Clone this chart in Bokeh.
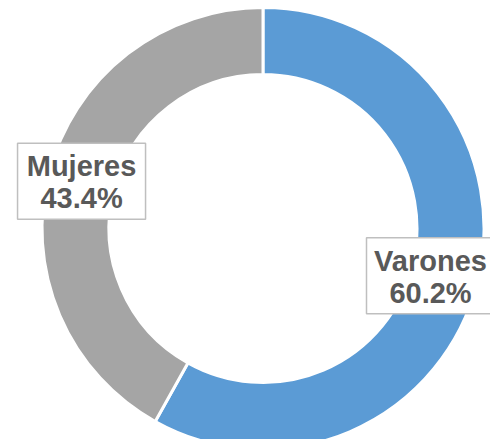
import math
from bokeh.plotting import figure
from bokeh.models import Range1d, ColumnDataSource
from bokeh.core.properties import value
from bokeh.embed import file_html
from bokeh.resources import INLINE

# ---- data ----
categories = ["Varones", "Mujeres"]
values = [60.2, 43.4]
colors = ["#5B9BD5", "#A5A5A5"]

# ---- layout ----
W, H = 490, 439
CX, CY = 262.5, 211.0
R_OUT, R_IN = 221.0, 154.0
BOX_W, BOX_H = 128, 76
FONT = value("Liberation Sans")
FS = "29px"
MAX_LX = W - 60  # keep label text inside the canvas

total = sum(values)
starts, ends, mids = [], [], []
a = math.pi / 2  # start at top, go clockwise
for v in values:
    sweep = 2 * math.pi * v / total
    starts.append(a - sweep)
    ends.append(a)
    mids.append(a - sweep / 2)
    a -= sweep

src = ColumnDataSource(dict(start=starts, end=ends, color=colors))

p = figure(width=W, height=H, x_range=Range1d(0, W), y_range=Range1d(0, H),
           output_backend="svg", toolbar_location=None, min_border=0)
p.axis.visible = False
p.grid.visible = False
p.outline_line_color = None
p.background_fill_color = "white"
p.border_fill_color = "white"

p.annular_wedge(x=CX, y=CY, inner_radius=R_IN, outer_radius=R_OUT,
                start_angle="start", end_angle="end", fill_color="color",
                line_color="white", line_width=3, source=src)

r_mid = (R_IN + R_OUT) / 2
lx = [min(CX + r_mid * math.cos(m), MAX_LX) for m in mids]
ly = [CY + r_mid * math.sin(m) for m in mids]

p.rect(x=lx, y=ly, width=BOX_W, height=BOX_H, fill_color="white",
       line_color="#BFBFBF", line_width=1.5)
p.text(x=lx, y=[y + 15 for y in ly], text=categories, text_font=FONT,
       text_font_size=FS, text_font_style="bold", text_color="#595959",
       text_align="center", text_baseline="middle")
p.text(x=lx, y=[y - 17 for y in ly], text=[f"{v}%" for v in values],
       text_font=FONT, text_font_size=FS, text_font_style="bold",
       text_color="#595959", text_align="center", text_baseline="middle")

open("out.html", "w").write(file_html(p, INLINE))
